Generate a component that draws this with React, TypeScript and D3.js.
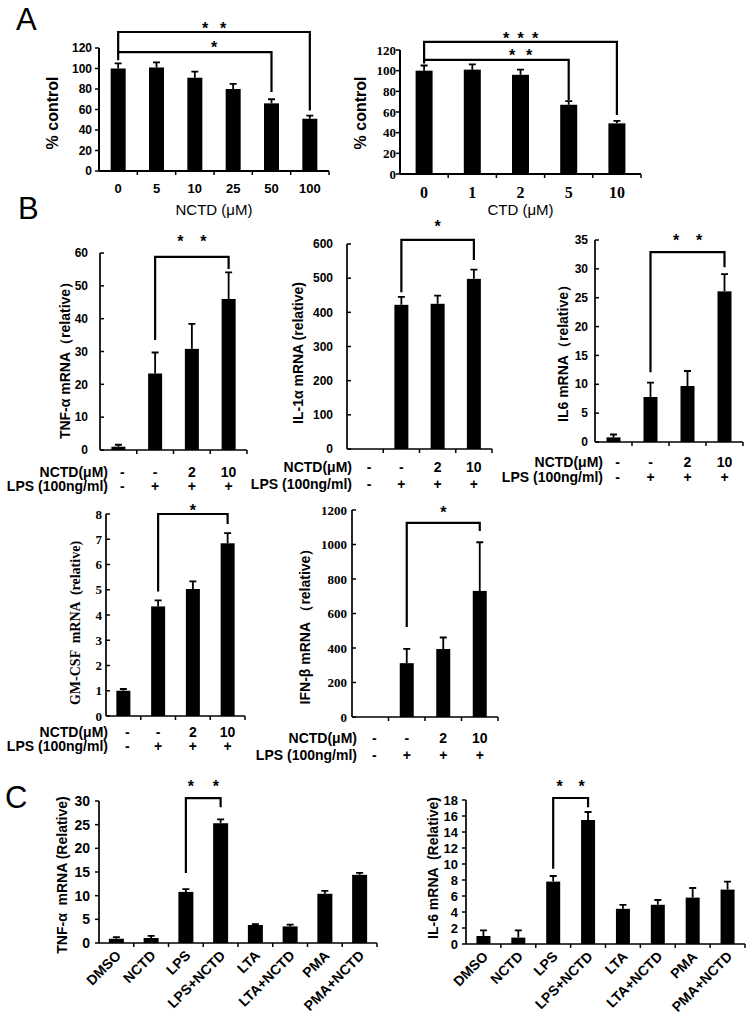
import React from 'react';
import * as d3 from 'd3';

const SANS = 'Arial, "Liberation Sans", sans-serif';
const SERIF = '"Times New Roman", "Liberation Serif", serif';

// ---- panel A: viability
const nctdDoses = ['0', '5', '10', '25', '50', '100'];
const nctdViability = [100, 101, 91, 80, 66, 51];
const nctdViabilityErr = [5, 5, 6, 5, 4, 3];
const ctdDoses = ['0', '1', '2', '5', '10'];
const ctdViability = [100, 101, 96, 67, 49];
const ctdViabilityErr = [5, 5, 5, 3.5, 2.5];

// ---- panel B: LPS +/- NCTD
const nctdRow = ['-', '-', '2', '10'];
const lpsRow = ['-', '+', '+', '+'];
const tnfB = [1, 23.3, 30.8, 46];
const tnfBErr = [0.6, 6.4, 7.6, 8.1];
const il1aB = [0, 422, 425, 498];
const il1aBErr = [0, 23, 24, 27];
const il6B = [0.8, 7.8, 9.7, 26.1];
const il6BErr = [0.5, 2.5, 2.6, 3];
const gmcsfB = [1, 4.34, 5.03, 6.84];
const gmcsfBErr = [0.07, 0.24, 0.3, 0.4];
const ifnbB = [0, 312, 394, 731];
const ifnbBErr = [0, 83, 67, 282];

// ---- panel C: stimuli
const stimuli = ['DMSO', 'NCTD', 'LPS', 'LPS+NCTD', 'LTA', 'LTA+NCTD', 'PMA', 'PMA+NCTD'];
const tnfC = [0.9, 1.05, 10.8, 25.3, 3.8, 3.5, 10.4, 14.4];
const tnfCErr = [0.35, 0.45, 0.6, 0.8, 0.2, 0.4, 0.6, 0.4];
const il6C = [1.0, 0.8, 7.8, 15.5, 4.4, 4.9, 5.8, 6.8];
const il6CErr = [0.7, 0.9, 0.7, 1.0, 0.5, 0.6, 1.2, 1.0];

type Bracket = {
  a: number; b: number;
  level: number; leftEnd: number; rightEnd: number;
  stars: number; spacing: number; gap: number;
  atPlotCenter?: boolean;
};

type PanelProps = {
  x0: number; x1: number; yTop: number; yBot: number;
  max: number; step: number;
  values: number[]; errs: number[]; barW: number;
  tickFont: string; tickSize: number; tickGap: number; tickDir: number;
  axisW: number;
  yLabel: string; yLabelX: number; yLabelY: number; yLabelFont: string; yLabelSize: number;
  brackets: Bracket[];
  xLabels?: { labels: string[]; font: string; size: number; y: number };
  title?: { text: string; y: number };
  rows?: { labelX: number; y1: number; y2: number };
  rotated?: string[];
};

const Panel = (p: PanelProps) => {
  const n = p.values.length;
  const x = d3.scaleBand<number>().domain(d3.range(n)).range([p.x0, p.x1]).padding(0);
  const y = d3.scaleLinear().domain([0, p.max]).range([p.yBot, p.yTop]);
  const cx = (i: number) => (x(i) || 0) + x.bandwidth() / 2;
  const ticks = d3.range(0, p.max + p.step / 2, p.step);
  const bw = x.bandwidth();
  const plotMid = (p.x0 + p.x1) / 2;

  return (
    <g>
      {/* bars + error bars */}
      {p.values.map((v, i) => v > 0 && (
        <g key={'b' + i}>
          <rect x={cx(i) - p.barW / 2} y={y(v)} width={p.barW} height={p.yBot - y(v)} fill="#000" />
          {p.errs[i] > 0 && (
            <path d={`M${cx(i)},${y(v)}V${y(v + p.errs[i])}M${cx(i) - 3.5},${y(v + p.errs[i])}H${cx(i) + 3.5}`}
              stroke="#000" strokeWidth={1.8} fill="none" />
          )}
        </g>
      ))}

      {/* axes */}
      <line x1={p.x0} x2={p.x0} y1={p.yTop} y2={p.yBot} stroke="#000" strokeWidth={p.axisW} />
      <line x1={p.x0} x2={p.x1} y1={p.yBot} y2={p.yBot} stroke="#000" strokeWidth={p.axisW} />
      {ticks.map((t) => (
        <g key={'t' + t}>
          <line x1={p.x0} x2={p.x0 + 4 * p.tickDir} y1={y(t)} y2={y(t)} stroke="#000" strokeWidth={1.5} />
          <text x={p.x0 - p.tickGap} y={y(t)} dy="0.35em" textAnchor="end"
            fontFamily={p.tickFont} fontSize={p.tickSize} fontWeight="bold">{t}</text>
        </g>
      ))}
      {d3.range(1, n + 1).map((i) => (
        <line key={'xt' + i} x1={p.x0 + i * bw} x2={p.x0 + i * bw} y1={p.yBot} y2={p.yBot + 4}
          stroke="#000" strokeWidth={1.5} />
      ))}

      {/* y label */}
      <text transform={`translate(${p.yLabelX},${p.yLabelY}) rotate(-90)`} textAnchor="middle" dy="0.35em"
        fontFamily={p.yLabelFont} fontSize={p.yLabelSize} fontWeight="bold" style={{ whiteSpace: 'pre' }}>
        {p.yLabel}
      </text>

      {/* x labels */}
      {p.xLabels && p.xLabels.labels.map((l, i) => (
        <text key={'xl' + i} x={cx(i)} y={p.xLabels!.y} textAnchor="middle"
          fontFamily={p.xLabels!.font} fontSize={p.xLabels!.size} fontWeight="bold">{l}</text>
      ))}
      {p.title && (
        <text x={plotMid} y={p.title.y} textAnchor="middle" fontFamily={SANS} fontSize={15}>{p.title.text}</text>
      )}
      {p.rows && (
        <g fontFamily={SANS} fontSize={14} fontWeight="bold">
          <text x={p.rows.labelX} y={p.rows.y1} textAnchor="end">NCTD(μM)</text>
          <text x={p.rows.labelX} y={p.rows.y2} textAnchor="end">LPS (100ng/ml)</text>
          {nctdRow.map((l, i) => (
            <text key={'r1' + i} x={cx(i) + (i === 0 ? 4 : 0)} y={p.rows!.y1} textAnchor="middle">{l}</text>
          ))}
          {lpsRow.map((l, i) => (
            <text key={'r2' + i} x={cx(i) + (i === 0 ? 4 : 0)} y={p.rows!.y2} textAnchor="middle">{l}</text>
          ))}
        </g>
      )}
      {p.rotated && p.rotated.map((l, i) => (
        <text key={'rl' + i} transform={`translate(${cx(i) + 2},${p.yBot + 10}) rotate(-45)`}
          textAnchor="end" dy="0.35em" fontFamily={SANS} fontSize={14} fontWeight="bold">{l}</text>
      ))}

      {/* significance brackets */}
      {p.brackets.map((br, k) => {
        const xa = cx(br.a);
        const xb = cx(br.b);
        const ly = y(br.level);
        const mid = br.atPlotCenter ? plotMid : (xa + xb) / 2;
        return (
          <g key={'br' + k}>
            <path d={`M${xa},${y(br.leftEnd)}V${ly}H${xb}V${y(br.rightEnd)}`} stroke="#000" strokeWidth={2.2} fill="none" />
            {d3.range(br.stars).map((s) => (
              <text key={s} x={mid + (s - (br.stars - 1) / 2) * br.spacing} y={ly - br.gap + 9}
                textAnchor="middle" fontFamily={SANS} fontSize={16} fontWeight="bold">*</text>
            ))}
          </g>
        );
      })}
    </g>
  );
};

const Letter = ({ x, y, t }: { x: number; y: number; t: string }) => (
  <text x={x} y={y} fontFamily={SANS} fontSize={31}>{t}</text>
);

export default function App() {
  return (
    <svg width={755} height={1023} style={{ position: 'absolute', left: 0, top: 0, background: '#fff' }}>
      <rect width={755} height={1023} fill="#fff" />
      <Letter x={16} y={30} t="A" />
      <Letter x={18} y={219} t="B" />
      <Letter x={5} y={808} t="C" />

      <Panel x0={99} x1={329} yTop={48} yBot={171} max={120} step={20}
        values={nctdViability} errs={nctdViabilityErr} barW={15}
        tickFont={SANS} tickSize={12} tickGap={7} tickDir={-1} axisW={2}
        yLabel="% control" yLabelX={52} yLabelY={113} yLabelFont={SANS} yLabelSize={16}
        xLabels={{ labels: nctdDoses, font: SANS, size: 13, y: 193 }}
        title={{ text: 'NCTD (μM)', y: 215 }}
        brackets={[
          { a: 0, b: 5, level: 135.6, leftEnd: 116, rightEnd: 59, stars: 2, spacing: 18, gap: 7, atPlotCenter: true },
          { a: 0, b: 4, level: 116, leftEnd: 108, rightEnd: 77, stars: 1, spacing: 0, gap: 8, atPlotCenter: true },
        ]} />

      <Panel x0={400} x1={641} yTop={50} yBot={174} max={120} step={20}
        values={ctdViability} errs={ctdViabilityErr} barW={17}
        tickFont={SERIF} tickSize={13} tickGap={4} tickDir={-1} axisW={2}
        yLabel="% control" yLabelX={360} yLabelY={113} yLabelFont={SANS} yLabelSize={16}
        xLabels={{ labels: ctdDoses, font: SERIF, size: 16, y: 198 }}
        title={{ text: 'CTD (μM)', y: 215 }}
        brackets={[
          { a: 0, b: 4, level: 127.8, leftEnd: 110, rightEnd: 57, stars: 3, spacing: 14.5, gap: 7, atPlotCenter: true },
          { a: 0, b: 3, level: 110.4, leftEnd: 107, rightEnd: 71.6, stars: 2, spacing: 17, gap: 8, atPlotCenter: true },
        ]} />

      <Panel x0={100} x1={247} yTop={253} yBot={450} max={60} step={10}
        values={tnfB} errs={tnfBErr} barW={14}
        tickFont={SANS} tickSize={12} tickGap={12} tickDir={1} axisW={1.7}
        yLabel="TNF-α mRNA（relative）" yLabelX={65} yLabelY={357} yLabelFont={SANS} yLabelSize={14}
        rows={{ labelX: 108, y1: 477, y2: 491 }}
        brackets={[{ a: 1, b: 3, level: 58.8, leftEnd: 33.5, rightEnd: 55.1, stars: 2, spacing: 23, gap: 19 }]} />

      <Panel x0={347} x1={492} yTop={244} yBot={449} max={600} step={100}
        values={il1aB} errs={il1aBErr} barW={14}
        tickFont={SANS} tickSize={12} tickGap={14} tickDir={1} axisW={1.7}
        yLabel="IL-1α mRNA (relative)" yLabelX={298} yLabelY={353} yLabelFont={SANS} yLabelSize={14}
        rows={{ labelX: 352, y1: 472, y2: 489 }}
        brackets={[{ a: 1, b: 3, level: 612, leftEnd: 459, rightEnd: 553, stars: 1, spacing: 0, gap: 17 }]} />

      <Panel x0={595} x1={743} yTop={240} yBot={442} max={35} step={5}
        values={il6B} errs={il6BErr} barW={14}
        tickFont={SANS} tickSize={12} tickGap={7} tickDir={1} axisW={1.7}
        yLabel="IL6 mRNA（relative）" yLabelX={563} yLabelY={350} yLabelFont={SANS} yLabelSize={14}
        rows={{ labelX: 603, y1: 467, y2: 482 }}
        brackets={[{ a: 1, b: 3, level: 32.9, leftEnd: 12.1, rightEnd: 30.3, stars: 2, spacing: 23, gap: 15 }]} />

      <Panel x0={106} x1={245} yTop={514} yBot={716} max={8} step={1}
        values={gmcsfB} errs={gmcsfBErr} barW={14}
        tickFont={SERIF} tickSize={13} tickGap={4} tickDir={1} axisW={1.7}
        yLabel="GM-CSF  mRNA  (relative)" yLabelX={75} yLabelY={623} yLabelFont={SERIF} yLabelSize={14}
        rows={{ labelX: 108, y1: 737, y2: 751 }}
        brackets={[{ a: 1, b: 3, level: 8.0, leftEnd: 4.93, rightEnd: 7.6, stars: 1, spacing: 0, gap: 7 }]} />

      <Panel x0={352} x1={498} yTop={510} yBot={717} max={1200} step={200}
        values={ifnbB} errs={ifnbBErr} barW={14}
        tickFont={SERIF} tickSize={13} tickGap={5} tickDir={1} axisW={1.7}
        yLabel="IFN-β mRNA （relative）" yLabelX={305} yLabelY={623} yLabelFont={SANS} yLabelSize={14}
        rows={{ labelX: 357, y1: 743, y2: 760 }}
        brackets={[{ a: 1, b: 3, level: 1125, leftEnd: 522, rightEnd: 1078, stars: 1, spacing: 0, gap: 14 }]} />

      <Panel x0={99} x1={377} yTop={801} yBot={943} max={30} step={5}
        values={tnfC} errs={tnfCErr} barW={15}
        tickFont={SANS} tickSize={14} tickGap={9} tickDir={-1} axisW={1.7}
        yLabel="TNF-α  mRNA (Relative)" yLabelX={62} yLabelY={875} yLabelFont={SANS} yLabelSize={14}
        rotated={stimuli}
        brackets={[{ a: 2, b: 3, level: 30.6, leftEnd: 14.8, rightEnd: 28.7, stars: 2, spacing: 25, gap: 15 }]} />

      <Panel x0={466} x1={745} yTop={800} yBot={944} max={18} step={2}
        values={il6C} errs={il6CErr} barW={14}
        tickFont={SANS} tickSize={13} tickGap={8} tickDir={-1} axisW={1.7}
        yLabel="IL-6 mRNA  (Relative)" yLabelX={433} yLabelY={868} yLabelFont={SANS} yLabelSize={14}
        rotated={stimuli}
        brackets={[{ a: 2, b: 3, level: 18.25, leftEnd: 9.4, rightEnd: 17.1, stars: 2, spacing: 22, gap: 15 }]} />
    </svg>
  );
}
